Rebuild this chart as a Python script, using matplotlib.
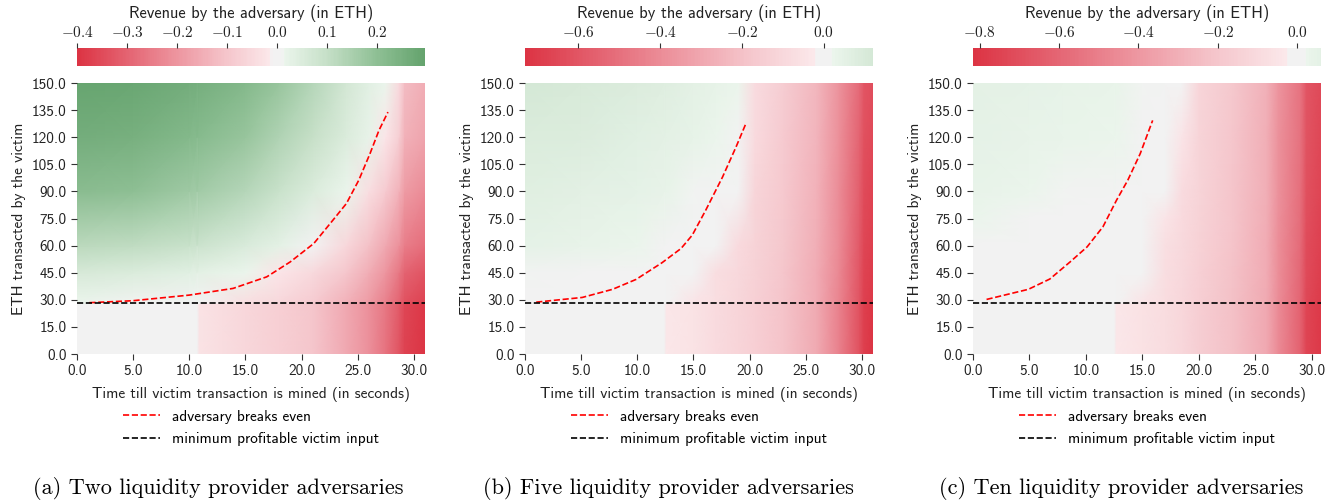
import numpy as np
import matplotlib
matplotlib.use('Agg')
import matplotlib.pyplot as plt
from matplotlib.colors import LinearSegmentedColormap, ListedColormap
from matplotlib.ticker import FormatStrFormatter, FuncFormatter, MultipleLocator

plt.rcParams['font.family'] = ['cmss10', 'DejaVu Sans']
plt.rcParams['mathtext.fontset'] = 'cm'
plt.rcParams['axes.unicode_minus'] = False

# ---- panel (a): two LP adversaries
a_time = [0, 5, 10, 10.7, 10.9, 15, 18, 21, 24, 26, 27.5, 28.7, 29.2, 31]
a_eth = [0, 27.9, 28.1, 45, 60, 90, 120, 150]
a_rev = [
    [0, 0, 0, 0, -0.025, -0.06, -0.075, -0.10, -0.16, -0.21, -0.27, -0.33, -0.37, -0.40],
    [0, 0, 0, 0, -0.025, -0.06, -0.075, -0.10, -0.16, -0.21, -0.26, -0.32, -0.36, -0.39],
    [0.015, 0.012, 0.004, 0.0, 0.0, -0.04, -0.06, -0.085, -0.14, -0.19, -0.24, -0.30, -0.34, -0.37],
    [0.06, 0.05, 0.035, 0.03, 0.03, 0.015, -0.02, -0.05, -0.10, -0.15, -0.20, -0.26, -0.30, -0.33],
    [0.12, 0.11, 0.09, 0.085, 0.085, 0.055, 0.03, 0.0, -0.06, -0.11, -0.16, -0.21, -0.25, -0.28],
    [0.21, 0.20, 0.17, 0.165, 0.165, 0.13, 0.09, 0.05, 0.015, -0.04, -0.09, -0.14, -0.19, -0.22],
    [0.26, 0.25, 0.22, 0.215, 0.215, 0.18, 0.14, 0.10, 0.05, 0.02, -0.02, -0.08, -0.14, -0.17],
    [0.29, 0.28, 0.26, 0.255, 0.255, 0.22, 0.18, 0.13, 0.07, 0.035, 0.015, -0.05, -0.12, -0.15],
]
a_even_t = [1.1, 5.0, 10.0, 13.9, 16.9, 19.0, 21.1, 22.8, 24.0, 25.1, 26.1, 26.9, 27.7]
a_even_eth = [28.4, 29.5, 32.6, 36.3, 42.7, 51.0, 61.2, 74.1, 83.3, 96.2, 110.9, 123.8, 133.9]
a_range = (-0.40, 0.296)

# ---- panel (b): five LP adversaries
b_time = [0, 5, 10, 12.4, 12.6, 15, 17, 19, 20.5, 23, 26, 28, 29.8, 30.2, 31]
b_eth = [0, 27.9, 28.1, 45, 60, 90, 120, 150]
b_rev = [
    [0, 0, 0, 0, -0.035, -0.05, -0.08, -0.11, -0.14, -0.19, -0.29, -0.44, -0.62, -0.69, -0.73],
    [0, 0, 0, 0, -0.035, -0.05, -0.08, -0.11, -0.14, -0.19, -0.29, -0.44, -0.62, -0.69, -0.72],
    [0, 0, 0, 0, 0, -0.045, -0.075, -0.105, -0.135, -0.185, -0.285, -0.43, -0.61, -0.68, -0.71],
    [0.02, 0.01, 0.005, 0, 0, 0, -0.07, -0.10, -0.13, -0.18, -0.28, -0.42, -0.60, -0.67, -0.70],
    [0.045, 0.035, 0.022, 0.015, 0.015, 0, 0, -0.09, -0.125, -0.175, -0.27, -0.41, -0.59, -0.66, -0.69],
    [0.07, 0.06, 0.045, 0.035, 0.035, 0.02, 0, 0, -0.11, -0.17, -0.26, -0.40, -0.57, -0.64, -0.67],
    [0.095, 0.085, 0.065, 0.055, 0.055, 0.04, 0.027, 0, -0.09, -0.16, -0.25, -0.39, -0.55, -0.62, -0.65],
    [0.12, 0.105, 0.085, 0.075, 0.075, 0.055, 0.04, 0.027, -0.08, -0.15, -0.24, -0.38, -0.53, -0.60, -0.63],
]
b_even_t = [1.0, 5.1, 7.8, 9.9, 12.2, 13.9, 14.9, 16.1, 17.6, 18.8, 19.7]
b_even_eth = [28.7, 31.3, 35.8, 41.3, 50.5, 58.4, 65.8, 79.6, 98.0, 114.6, 127.9]
b_range = (-0.73, 0.12)

# ---- panel (c): ten LP adversaries
c_time = [0, 5, 8, 12.5, 12.7, 15, 17, 18.5, 20, 23, 26, 27, 29, 29.5, 31]
c_eth = [0, 27.9, 28.1, 45, 60, 75, 90, 120, 150]
c_rev = [
    [0, 0, 0, 0, -0.035, -0.06, -0.09, -0.12, -0.16, -0.23, -0.33, -0.45, -0.62, -0.74, -0.80],
    [0, 0, 0, 0, -0.035, -0.06, -0.09, -0.12, -0.16, -0.23, -0.33, -0.45, -0.62, -0.74, -0.80],
    [0, 0, 0, 0, 0, -0.05, -0.085, -0.115, -0.155, -0.225, -0.325, -0.445, -0.61, -0.73, -0.79],
    [0, 0, 0, 0, 0, 0, -0.08, -0.11, -0.15, -0.22, -0.32, -0.44, -0.60, -0.72, -0.78],
    [0, 0, 0, 0, 0, 0, -0.075, -0.105, -0.145, -0.215, -0.315, -0.435, -0.59, -0.71, -0.77],
    [0.028, 0, 0, 0, 0, 0, -0.05, -0.10, -0.14, -0.21, -0.31, -0.43, -0.58, -0.70, -0.76],
    [0.038, 0.028, 0.02, 0.01, 0.01, 0, 0, -0.095, -0.135, -0.205, -0.305, -0.425, -0.57, -0.69, -0.75],
    [0.05, 0.042, 0.036, 0.025, 0.025, 0.01, 0, -0.05, -0.13, -0.20, -0.30, -0.42, -0.56, -0.68, -0.74],
    [0.06, 0.05, 0.045, 0.03, 0.03, 0.02, 0, 0, -0.125, -0.195, -0.295, -0.415, -0.55, -0.67, -0.73],
]
c_even_t = [1.2, 4.9, 6.8, 8.6, 10.1, 11.5, 12.7, 13.7, 14.8, 15.9]
c_even_eth = [30.2, 35.8, 41.5, 51.0, 59.3, 70.4, 85.1, 96.2, 110.9, 129.3]
c_range = (-0.817, 0.06)

min_input = 28.0
captions = ['(a) Two liquidity provider adversaries',
            '(b) Five liquidity provider adversaries',
            '(c) Ten liquidity provider adversaries']

base = LinearSegmentedColormap.from_list('rg', [
    (0.0, '#dc3444'), (0.125, '#e46472'), (0.25, '#ed96a0'), (0.375, '#f5c6cc'),
    (0.483, '#fbe8ea'), (0.487, '#f2f2f2'), (0.513, '#f2f2f2'), (0.517, '#ebf5ec'),
    (0.625, '#c6e0c8'), (0.75, '#8fc095'), (0.875, '#63a26c'), (1.0, '#3f8a4c')])


def centered_cmap(vmin, vmax):
    # same trick as seaborn's center=0: slice a symmetric map
    r = max(-vmin, vmax)
    lo, hi = (vmin + r) / (2 * r), (vmax + r) / (2 * r)
    return ListedColormap(base(np.linspace(lo, hi, 256)))


fig = plt.figure(figsize=(13.4, 5.04), dpi=100)
W, H = 1340, 504
lefts = [77, 525, 973]
xmaxs = [31, 31, 30.8]
cticks = [0.1, 0.2, 0.2]
caption_x = [218, 668, 1121]
panels = [(a_time, a_eth, a_rev, a_even_t, a_even_eth, a_range),
          (b_time, b_eth, b_rev, b_even_t, b_even_eth, b_range),
          (c_time, c_eth, c_rev, c_even_t, c_even_eth, c_range)]
txt = '#222222'

for i, (tt, ee, rev, et, ee2, (vmin, vmax)) in enumerate(panels):
    ax = fig.add_axes([lefts[i] / W, (H - 354) / H, 348 / W, 271 / H])
    cax = fig.add_axes([lefts[i] / W, (H - 66) / H, 348 / W, 18 / H])
    X, Y = np.meshgrid(tt, ee)
    mesh = ax.pcolormesh(X, Y, np.array(rev), shading='gouraud',
                         cmap=centered_cmap(vmin, vmax), vmin=vmin, vmax=vmax,
                         rasterized=True)
    ax.plot(et, ee2, color='red', ls='--', lw=1.2, label='adversary breaks even')
    ax.axhline(min_input, color='black', ls='--', lw=1.2,
               label='minimum profitable victim input')
    ax.set_xlim(0, xmaxs[i])
    ax.set_ylim(0, 150)
    ax.set_xticks(np.arange(0, 31, 5))
    ax.set_yticks(np.arange(0, 151, 15))
    ax.xaxis.set_major_formatter(FormatStrFormatter('%.1f'))
    ax.yaxis.set_major_formatter(FormatStrFormatter('%.1f'))
    for s in ax.spines.values():
        s.set_visible(False)
    ax.tick_params(labelsize=11, length=4.5, width=0.8, color='#333333',
                   labelcolor=txt, pad=3)
    ax.set_xlabel('Time till victim transaction is mined (in seconds)',
                  fontsize=11.1, color=txt, labelpad=6)
    ax.set_ylabel('ETH transacted by the victim', fontsize=11.1, color=txt,
                  labelpad=4)
    ax.legend(loc='upper left', bbox_to_anchor=(0.132, -0.205), frameon=False,
              fontsize=11, borderpad=0, borderaxespad=0, handlelength=2.4,
              handletextpad=0.8, labelspacing=0.55)

    cb = fig.colorbar(mesh, cax=cax, orientation='horizontal')
    cb.outline.set_visible(False)
    cax.xaxis.set_ticks_position('top')
    cax.xaxis.set_label_position('top')
    cax.xaxis.set_major_locator(MultipleLocator(cticks[i]))
    cax.xaxis.set_major_formatter(FuncFormatter(lambda v, p: '$%.1f$' % (round(v, 3) + 0.0)))
    cax.tick_params(labelsize=11, length=3.5, width=0.8, color='#333333',
                    labelcolor=txt, pad=2.5)
    cb.set_label('Revenue by the adversary (in ETH)', fontsize=11.9,
                 color=txt, labelpad=5)

    fig.text(caption_x[i] / W, 1 - 488 / H, captions[i], ha='center', va='center',
             family='cmr10', fontsize=16)

fig.savefig('out.png', dpi=100)
